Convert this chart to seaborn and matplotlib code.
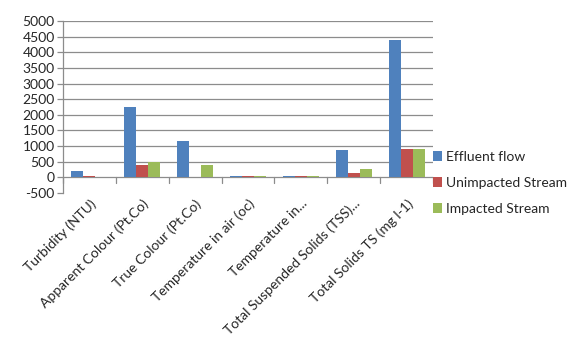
import matplotlib
matplotlib.use("Agg")
import matplotlib.pyplot as plt
import seaborn as sns
import pandas as pd
from matplotlib.patches import Patch

categories = ["Turbidity (NTU)", "Apparent Colour (Pt.Co)", "True Colour (Pt.Co)",
              "Temperature in air (oc)", "Temperature in...", "Total Suspended Solids (TSS)...",
              "Total Solids TS (mg l-1)"]
series = ["Effluent flow", "Unimpacted Stream", "Impacted Stream"]
effluent = [200, 2250, 1160, 45, 45, 880, 4390]
unimpacted = [40, 400, 0, 45, 45, 125, 915]
impacted = [20, 480, 385, 45, 45, 265, 915]
yticks = list(range(-500, 5001, 500))
colors = ["#4F81BD", "#C0504D", "#9BBB59"]

rows = []
for s, vals in zip(series, [effluent, unimpacted, impacted]):
    for c, v in zip(categories, vals):
        rows.append({"cat": c, "series": s, "value": v})
df = pd.DataFrame(rows)

sns.set_style("white")
plt.rcParams['font.family'] = ['Lato', 'DejaVu Sans']
fs = 10

fig = plt.figure(figsize=(5.81, 3.44), dpi=100)
ax = fig.add_axes([63/581, 1-193/344, 370/581, 172/344])
sns.barplot(data=df, x="cat", y="value", hue="series", palette=colors,
            order=categories, hue_order=series, width=0.68, ax=ax,
            saturation=1, legend=False, edgecolor="none")
for p in ax.patches:
    p.set_zorder(3)

ax.set_ylim(-500, 5000)
ax.set_xlim(-0.5, len(categories)-0.5)
ax.set_yticks(yticks)
ax.set_yticklabels([str(t) for t in yticks], fontsize=fs)
gc = "#8c8c8c"
for t in yticks:
    if t > 0:
        ax.axhline(t, color=gc, lw=0.9, zorder=0)
ax.axhline(0, color=gc, lw=0.9, zorder=1)
for k in range(len(categories)+1):
    ax.plot([k-0.5, k-0.5], [0, -170], color=gc, lw=0.9, clip_on=False, zorder=1)
for s in ["top", "right", "bottom"]:
    ax.spines[s].set_visible(False)
ax.spines["left"].set_color(gc)
ax.spines["left"].set_linewidth(0.9)
ax.tick_params(axis="y", length=4, color=gc, width=0.9, pad=2, left=True)
ax.tick_params(axis="x", length=0, pad=3)
ax.set_xticks(range(len(categories)))
ax.set_xticklabels(categories, rotation=45, ha="right", rotation_mode="anchor", fontsize=fs)
ax.set_xlabel("")
ax.set_ylabel("")

handles = [Patch(facecolor=c, edgecolor="none") for c in colors]
fig.legend(handles, series, loc="upper left", bbox_to_anchor=(427/581, 1-145/344),
           frameon=False, fontsize=fs, handlelength=0.7, handleheight=0.7,
           handletextpad=0.3, labelspacing=1.02, borderaxespad=0)

fig.savefig("out.png", dpi=100)
